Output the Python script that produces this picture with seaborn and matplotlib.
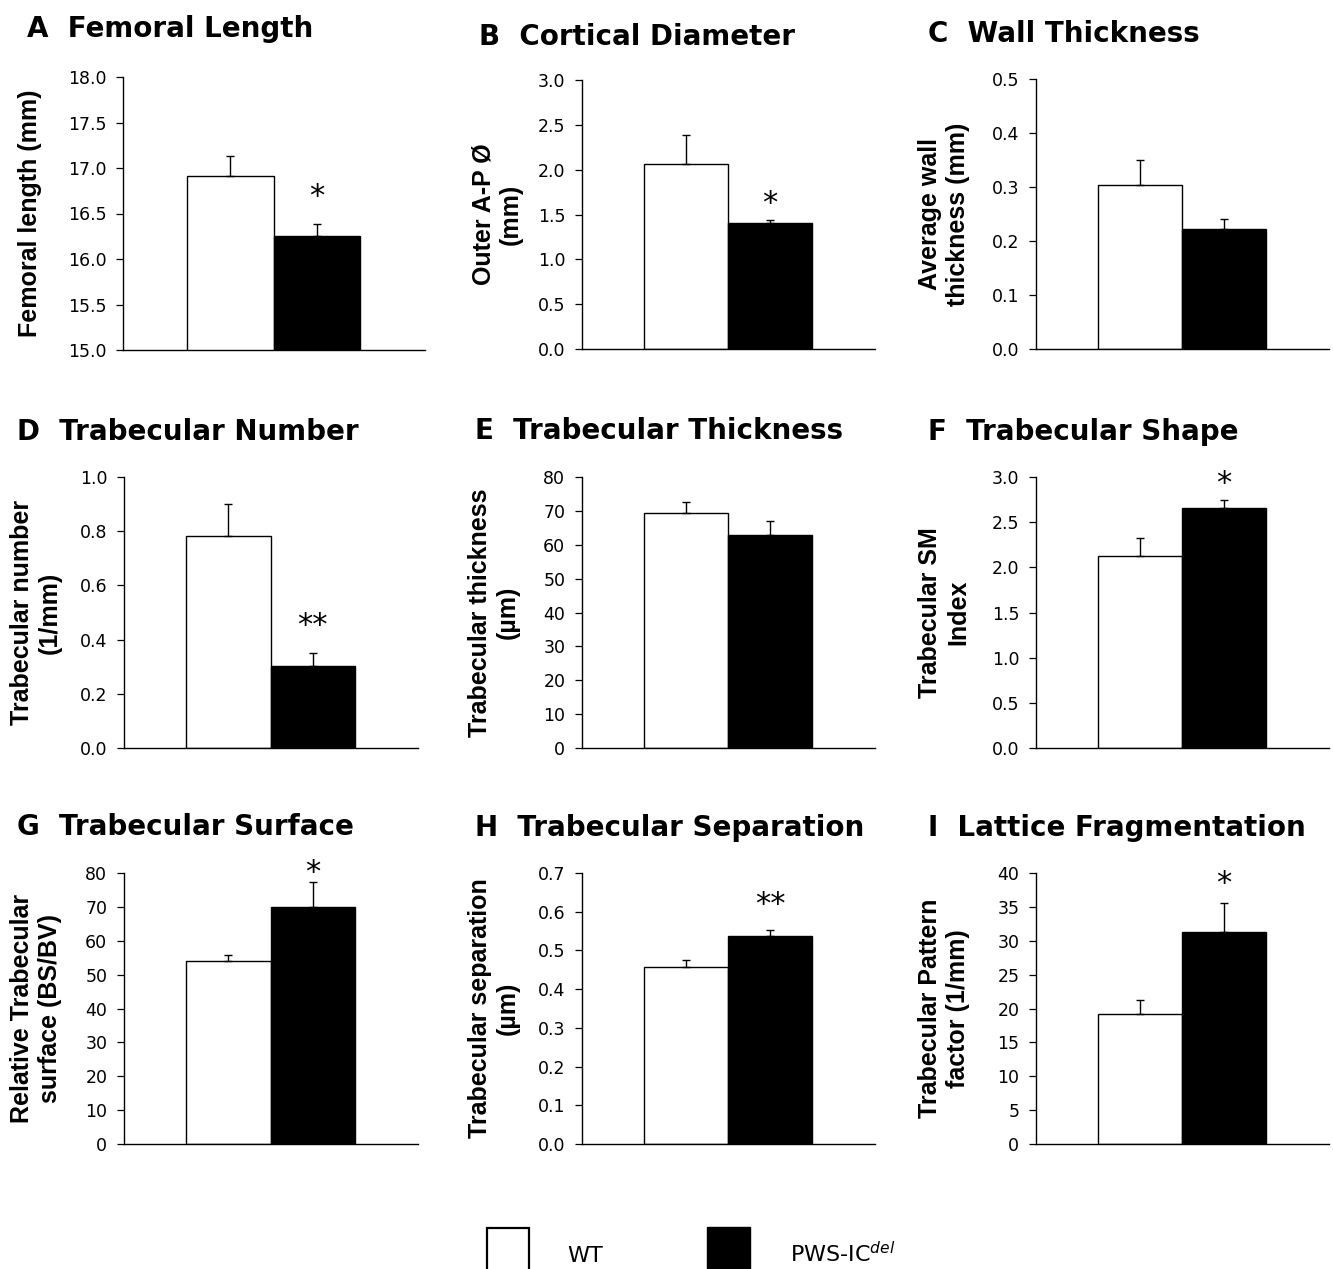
import numpy as np
import pandas as pd
import matplotlib
matplotlib.use("Agg")
import matplotlib.pyplot as plt
import seaborn as sns
from matplotlib.patches import Rectangle
from matplotlib.ticker import FormatStrFormatter

sns.set_style("ticks")
plt.rcParams["font.family"] = ["DejaVu Sans"]
plt.rcParams["text.color"] = "black"
plt.rcParams["axes.labelcolor"] = "black"
plt.rcParams["ytick.color"] = "black"

# ---- data ----
groups = ["WT", "PWS-IC del"]
letters = list("ABCDEFGHI")
titles = ["Femoral Length", "Cortical Diameter", "Wall Thickness",
          "Trabecular Number", "Trabecular Thickness", "Trabecular Shape",
          "Trabecular Surface", "Trabecular Separation", "Lattice Fragmentation"]
ylabels = ["Femoral length (mm)", "Outer A-P Ø\n(mm)", "Average wall\nthickness (mm)",
           "Trabecular number\n(1/mm)", "Trabecular thickness\n(µm)", "Trabecular SM\nIndex",
           "Relative Trabecular\nsurface (BS/BV)", "Trabecular separation\n(µm)",
           "Trabecular Pattern\nfactor (1/mm)"]
wt_mean = [16.91, 2.06, 0.303, 0.782, 69.5, 2.13, 54.1, 0.456, 19.2]
wt_sem = [0.22, 0.33, 0.047, 0.118, 3.0, 0.20, 1.7, 0.018, 2.1]
pws_mean = [16.25, 1.41, 0.222, 0.301, 63.0, 2.66, 70.0, 0.536, 31.3]
pws_sem = [0.14, 0.03, 0.018, 0.050, 4.1, 0.09, 7.4, 0.017, 4.3]
stars = ["*", "*", "", "**", "", "*", "*", "**", "*"]
star_y = [16.78, 1.72, None, 0.483, None, 3.02, 82.6, 0.641, 39.7]
y_min = [15, 0, 0, 0, 0, 0, 0, 0, 0]
y_max = [18, 3, 0.5, 1.0, 80, 3, 80, 0.7, 40]
y_step = [0.5, 0.5, 0.1, 0.2, 10, 0.5, 10, 0.1, 5]
y_fmt = ["%.1f", "%.1f", "%.1f", "%.1f", "%d", "%.1f", "%d", "%.1f", "%d"]

# ---- layout (pixels) ----
W, H = 1333, 1269
rects = [(123, 425, 77, 350), (582, 875, 80, 349), (1036, 1329, 79, 349),
         (124, 418, 477, 748), (582, 875, 477, 748), (1036, 1329, 477, 748),
         (124, 418, 873, 1144), (582, 875, 873, 1144), (1036, 1329, 873, 1144)]
title_pos = [(27, 37), (479, 45), (928, 42), (17, 440), (475, 439), (928, 440),
             (17, 835), (475, 836), (928, 836)]
label_off = [81, 59, 66, 62, 62, 66, 62, 62, 66]

fig = plt.figure(figsize=(W / 100, H / 100), dpi=100)
palette = {groups[0]: "white", groups[1]: "black"}

for i in range(9):
    l, r, t, b = rects[i]
    ax = fig.add_axes([l / W, 1 - b / H, (r - l) / W, (b - t) / H])
    df = pd.DataFrame({"group": groups, "value": [wt_mean[i], pws_mean[i]]})
    sns.barplot(data=df, x="group", y="value", hue="group", palette=palette,
                width=1.0, edgecolor="black", linewidth=1.0, errorbar=None,
                legend=False, ax=ax, zorder=2)
    ax.errorbar([0, 1], [wt_mean[i], pws_mean[i]],
                yerr=[[0, 0], [wt_sem[i], pws_sem[i]]], fmt="none",
                ecolor="black", elinewidth=1.0, capsize=3.2, capthick=1.0, zorder=3)
    if stars[i]:
        ax.annotate(stars[i], xy=(1, star_y[i]), xytext=(0, -12.3),
                    textcoords="offset points", ha="center", va="baseline",
                    fontsize=22, color="black", annotation_clip=False)
    ax.set_xlim(-1.24, 2.25)
    ax.set_ylim(y_min[i], y_max[i])
    ax.set_yticks(np.arange(y_min[i], y_max[i] + y_step[i] / 2, y_step[i]))
    ax.yaxis.set_major_formatter(FormatStrFormatter(y_fmt[i]))
    ax.set_xticks([])
    ax.set_xlabel("")
    ax.tick_params(axis="y", direction="out", length=5, width=0.9, pad=7,
                   labelsize=12.5, colors="black")
    for s in ["top", "right"]:
        ax.spines[s].set_visible(False)
    for s in ["left", "bottom"]:
        ax.spines[s].set_linewidth(1.0)
        ax.spines[s].set_color("black")
    ax.set_ylabel(ylabels[i], fontsize=18, fontweight="bold",
                  family="Liberation Sans", linespacing=1.2, color="black")
    ax.yaxis.set_label_coords(-label_off[i] / (r - l), 0.5)
    ax.set_facecolor("white")

    tx, ty = title_pos[i]
    fig.text(tx / W, 1 - ty / H, letters[i] + "  " + titles[i], fontsize=20,
             fontweight="bold", ha="left", va="baseline", color="black")

# ---- legend ----
fig.patches.append(Rectangle((487 / W, 1 - 1275 / H), 42 / W, 47 / H,
                             transform=fig.transFigure, facecolor="white",
                             edgecolor="black", linewidth=1.6))
fig.patches.append(Rectangle((707 / W, 1 - 1275 / H), 43 / W, 48 / H,
                             transform=fig.transFigure, facecolor="black",
                             edgecolor="black", linewidth=1.0))
fig.text(567 / W, 1 - 1262 / H, "WT", fontsize=16, ha="left", va="baseline",
         color="black")
fig.text(790 / W, 1 - 1262 / H, r"PWS-IC$^{\mathit{del}}$", fontsize=16,
         ha="left", va="baseline", color="black")

fig.savefig("out.png", dpi=100, facecolor="white")
